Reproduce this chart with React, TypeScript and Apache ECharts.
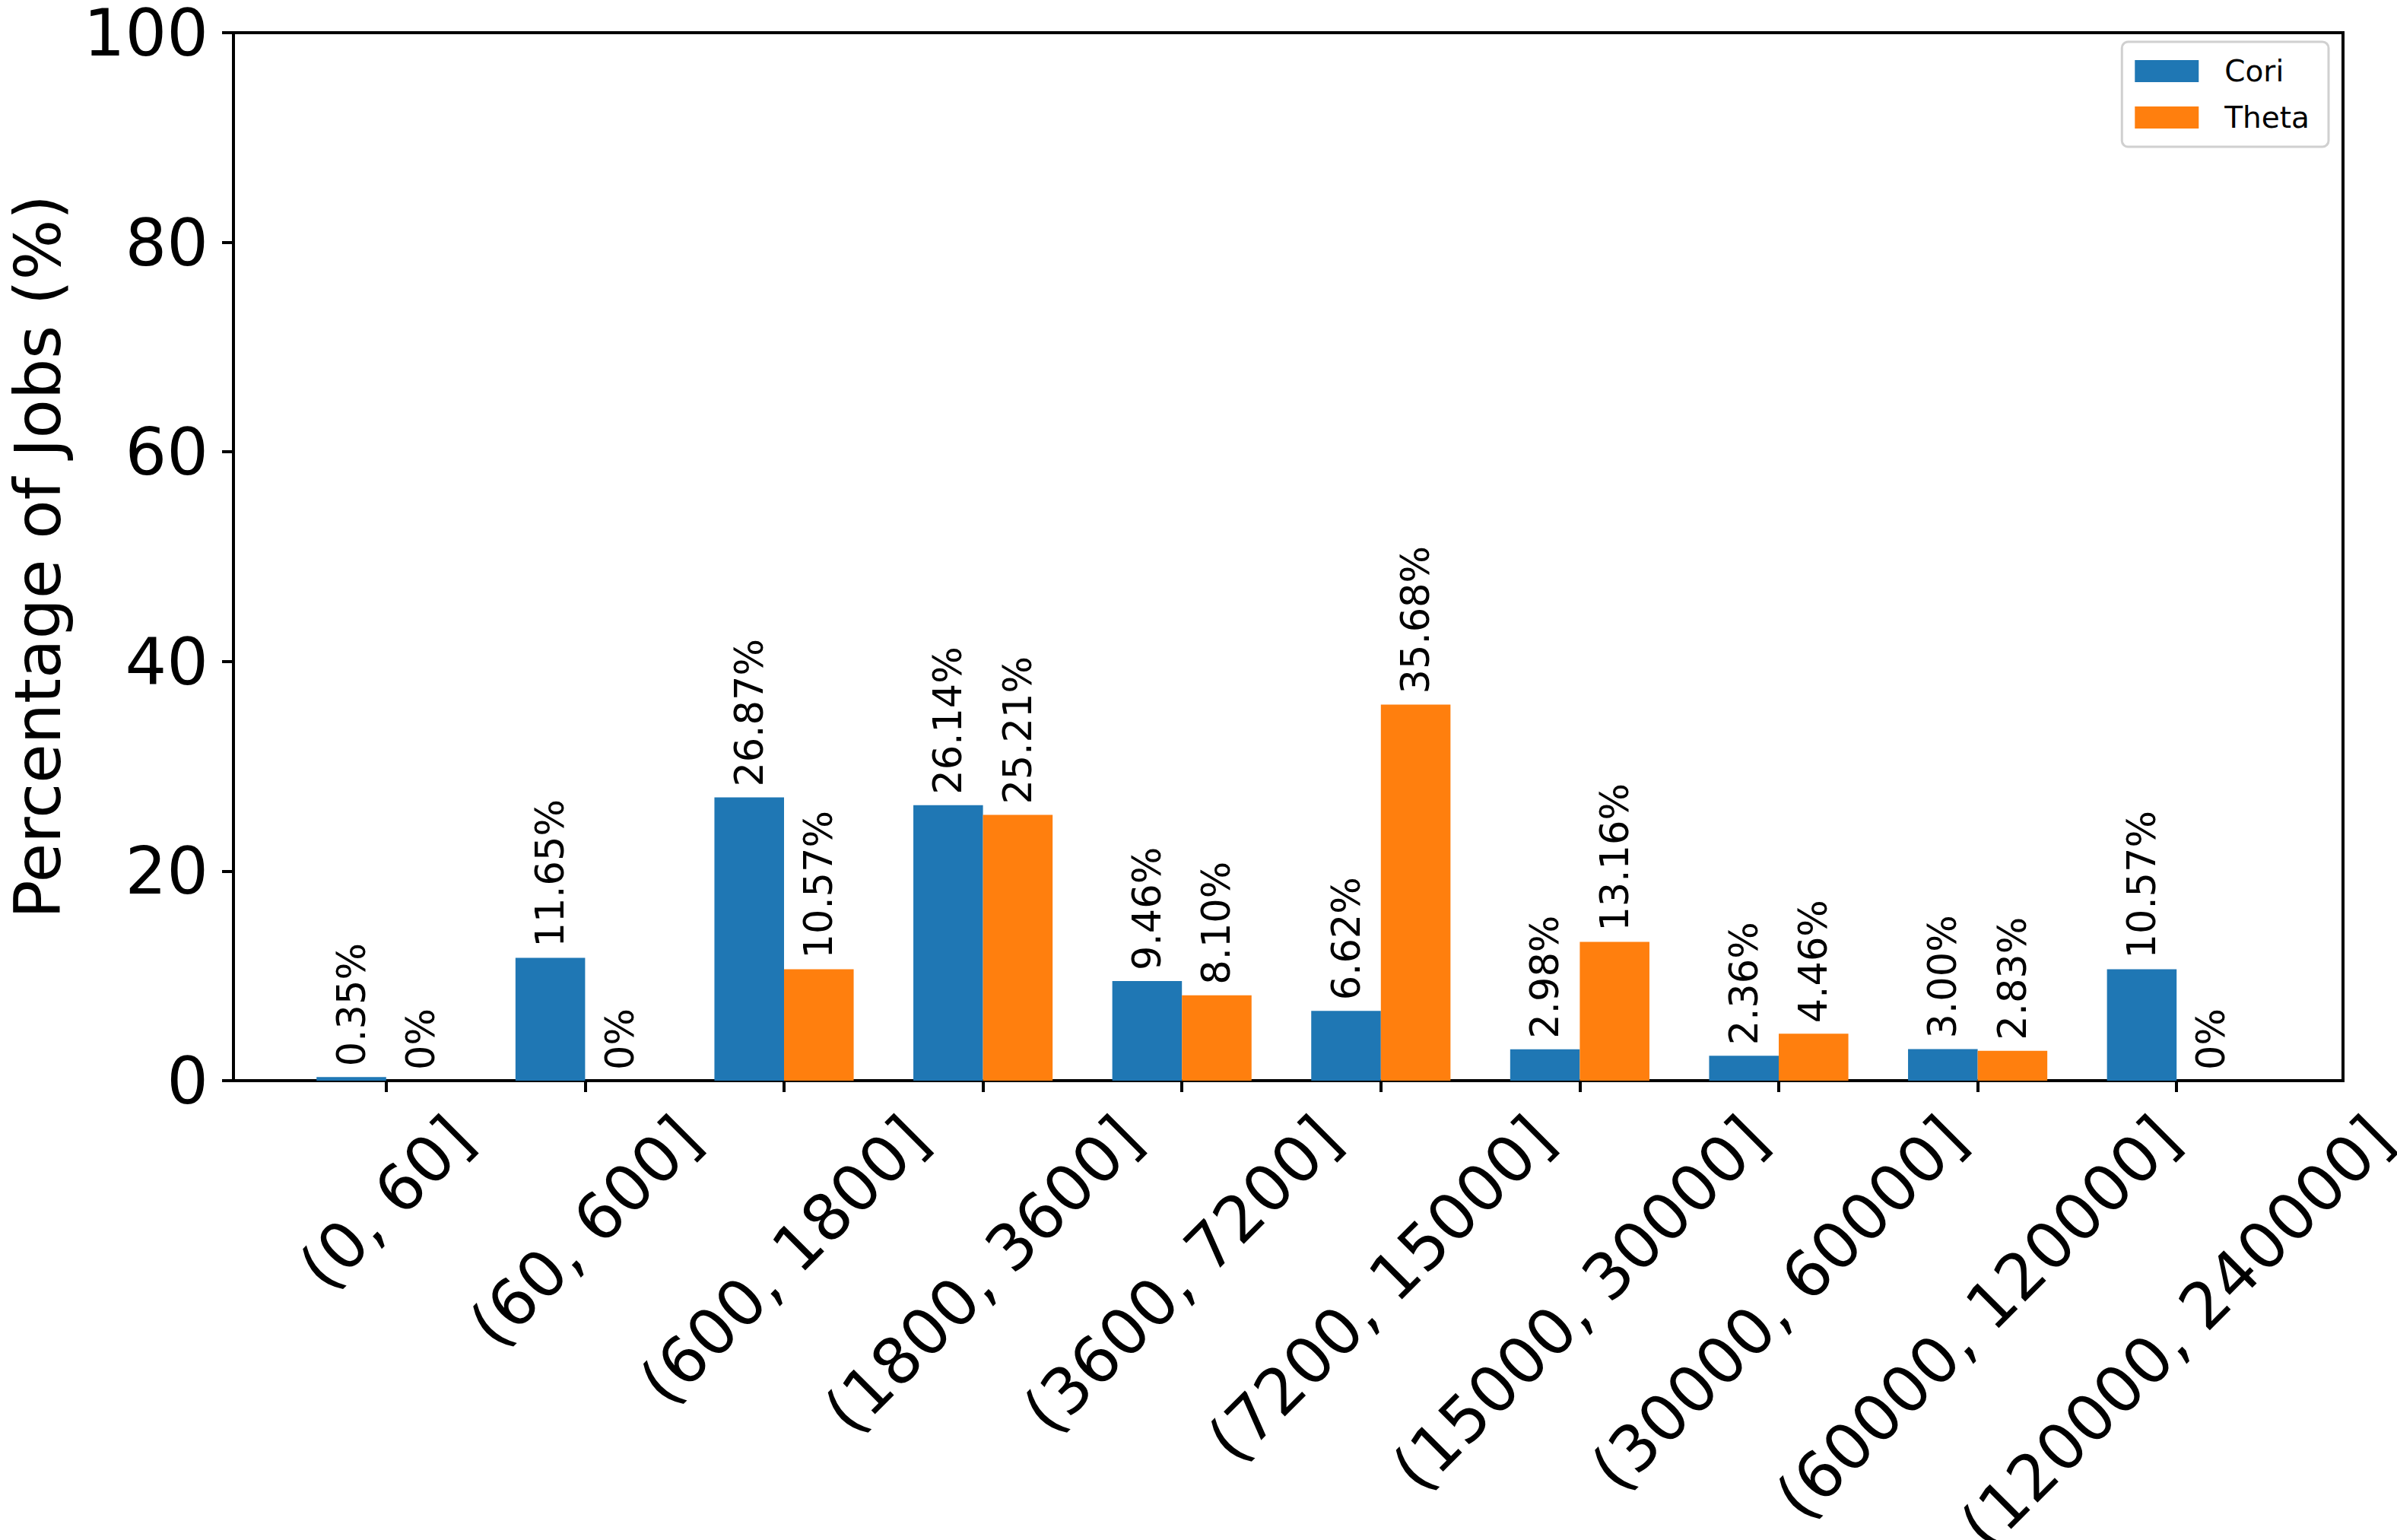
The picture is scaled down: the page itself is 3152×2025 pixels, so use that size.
import React, { useEffect, useRef } from "react";
import * as echarts from "echarts";

const categories = [
  "(0, 60]",
  "(60, 600]",
  "(600, 1800]",
  "(1800, 3600]",
  "(3600, 7200]",
  "(7200, 15000]",
  "(15000, 30000]",
  "(30000, 60000]",
  "(60000, 120000]",
  "(120000, 240000]",
];
const coriValues = [0.35, 11.65, 26.87, 26.14, 9.46, 6.62, 2.98, 2.36, 3.0, 10.57];
const thetaValues = [0, 0, 10.57, 25.21, 8.1, 35.68, 13.16, 4.46, 2.83, 0];
const seriesNames = ["Cori", "Theta"];
const seriesColors = ["#1f77b4", "#ff7f0e"];
const yMin = 0;
const yMax = 100;
const yStep = 20;
const yAxisTitle = "Percentage of Jobs (%)";

const W = 3152;
const H = 2025;
const FONT = '"DejaVu Sans", "Liberation Sans", sans-serif';
const YTICK_FONT = 86;
const XTICK_FONT = 84;
const VALUE_FONT = 51;
const LEGEND_FONT = 39;

const frame = { left: 290, top: 35, width: 2791, height: 1386 };
const inner = { left: 377, width: 2616 };

const fmt = (v: number) => (v === 0 ? "0%" : v.toFixed(2) + "%");

function buildOption(): any {
  const barLabel = {
    show: true,
    position: "top",
    rotate: 90,
    align: "left",
    verticalAlign: "middle",
    distance: 14,
    fontSize: VALUE_FONT,
    fontFamily: FONT,
    color: "#000",
    formatter: (p: any) => fmt(p.value),
  };
  return {
    animation: false,
    backgroundColor: "#ffffff",
    grid: [
      {
        left: frame.left,
        top: frame.top,
        width: frame.width,
        height: frame.height,
        show: true,
        borderColor: "#000",
        borderWidth: 4,
        backgroundColor: "transparent",
        containLabel: false,
      },
      {
        left: inner.left,
        top: frame.top,
        width: inner.width,
        height: frame.height,
        containLabel: false,
      },
    ],
    xAxis: [
      { type: "value", gridIndex: 0, show: false, min: 0, max: 1 },
      {
        type: "category",
        gridIndex: 1,
        data: categories,
        boundaryGap: true,
        axisLine: { show: false },
        axisTick: {
          show: true,
          alignWithLabel: true,
          length: 15,
          lineStyle: { color: "#000", width: 4 },
        },
        axisLabel: { show: false },
        splitLine: { show: false },
      },
    ],
    yAxis: [
      {
        type: "value",
        gridIndex: 0,
        min: yMin,
        max: yMax,
        interval: yStep,
        axisLine: { show: true, lineStyle: { color: "#000", width: 4 } },
        axisTick: { show: true, length: 15, inside: false, lineStyle: { color: "#000", width: 4 } },
        axisLabel: {
          fontSize: YTICK_FONT,
          fontFamily: FONT,
          color: "#000",
          margin: 33,
          lineHeight: 64,
        },
        splitLine: { show: false },
        name: yAxisTitle,
        nameLocation: "middle",
        nameRotate: 90,
        nameGap: 215,
        nameTextStyle: { fontSize: XTICK_FONT, fontFamily: FONT, color: "#000" },
      },
      { type: "value", gridIndex: 1, min: yMin, max: yMax, show: false },
    ],
    legend: {
      data: seriesNames,
      orient: "vertical",
      right: 90,
      top: 55,
      itemWidth: 84,
      itemHeight: 29,
      itemGap: 22,
      icon: "rect",
      padding: [19, 25, 19, 17],
      backgroundColor: "#ffffff",
      borderColor: "#d0d0d0",
      borderWidth: 3,
      borderRadius: 8,
      textStyle: {
        fontSize: LEGEND_FONT,
        fontFamily: FONT,
        color: "#000",
        lineHeight: 29,
        padding: [0, 0, 0, 29],
      },
    },
    series: [
      {
        type: "bar",
        name: seriesNames[0],
        xAxisIndex: 1,
        yAxisIndex: 1,
        data: coriValues,
        barWidth: "35%",
        barGap: "0%",
        itemStyle: { color: seriesColors[0] },
        label: barLabel,
      },
      {
        type: "bar",
        name: seriesNames[1],
        xAxisIndex: 1,
        yAxisIndex: 1,
        data: thetaValues,
        barWidth: "35%",
        barGap: "0%",
        itemStyle: { color: seriesColors[1] },
        label: barLabel,
      },
    ],
  };
}

export default function App() {
  const ref = useRef<HTMLDivElement>(null);
  useEffect(() => {
    document.body.style.margin = "0";
    const el = ref.current!;
    const chart = echarts.init(el, null, { renderer: "svg", width: W, height: H });
    chart.setOption(buildOption());

    // Category labels rotated 45° and centred under each tick (matplotlib style)
    const canvas = document.createElement("canvas");
    const ctx = canvas.getContext("2d")!;
    ctx.font = `${XTICK_FONT}px ${FONT}`;
    const axisY = chart.convertToPixel({ yAxisIndex: 1 } as any, 0) as unknown as number;
    const graphics = categories.map((cat, i) => {
      const tx = chart.convertToPixel({ xAxisIndex: 1 } as any, i) as unknown as number;
      const L = ctx.measureText(cat).width;
      return {
        type: "text",
        x: tx,
        y: axisY + 62 + L / (2 * Math.SQRT2),
        rotation: Math.PI / 4,
        silent: true,
        style: {
          text: cat,
          fontSize: XTICK_FONT,
          fontFamily: FONT,
          fill: "#000",
          lineHeight: 84,
          align: "center",
          verticalAlign: "middle",
          textAlign: "center",
          textVerticalAlign: "middle",
        },
      };
    });
    chart.setOption({ graphic: graphics });

    return () => chart.dispose();
  }, []);
  return <div ref={ref} style={{ width: W, height: H, background: "#fff" }} />;
}
